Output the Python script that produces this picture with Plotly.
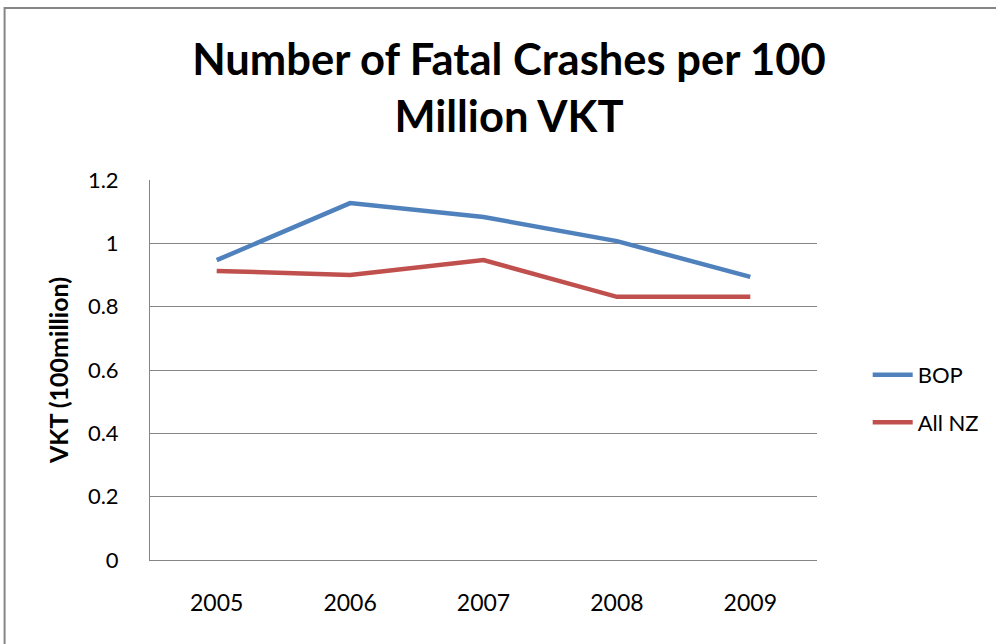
import plotly.graph_objects as go

years = ["2005", "2006", "2007", "2008", "2009"]
bop = [0.947, 1.127, 1.083, 1.007, 0.894]
all_nz = [0.913, 0.900, 0.947, 0.831, 0.831]
y_ticks = [0, 0.2, 0.4, 0.6, 0.8, 1, 1.2]
y_tick_text = ["0", "0.2", "0.4", "0.6", "0.8", "1", "1.2"]

FONT = "Lato"
GREY = "#868686"

fig = go.Figure()
fig.add_trace(go.Scatter(x=years, y=bop, name="BOP", mode="lines", legendgroup="bop",
                         line=dict(color="#4F81BD", width=4.5)))
fig.add_trace(go.Scatter(x=years, y=all_nz, name="All NZ", mode="lines", legendgroup="nz",
                         line=dict(color="#C0504D", width=4.5)))

fig.update_layout(
    width=996, height=644,
    margin=dict(l=150, r=176, t=180, b=84),
    paper_bgcolor="white", plot_bgcolor="white",
    font=dict(family=FONT, color="black"),
    title=dict(text="<b>Number of Fatal Crashes per 100<br>Million VKT</b>",
               x=0.511, xanchor="center", y=0.883, yanchor="middle",
               font=dict(size=43.5, family=FONT, color="black")),
    xaxis=dict(type="category", range=[-0.5, 4.5], showgrid=False,
               showline=True, linecolor=GREY, linewidth=1,
               ticks="", tickfont=dict(size=23), ticklabelstandoff=22),
    yaxis=dict(range=[0, 1.2], tickvals=y_ticks, ticktext=y_tick_text,
               showgrid=True, gridcolor=GREY, gridwidth=1,
               showline=True, linecolor=GREY, linewidth=1,
               zeroline=False, ticks="", tickfont=dict(size=22), ticklabelstandoff=26,
               title=dict(text="<b>VKT (100million)</b>", font=dict(size=25), standoff=12)),
    legend=dict(x=1.076, y=0.424, xanchor="left", yanchor="middle",
                font=dict(size=22), tracegroupgap=16, itemwidth=40,
                bgcolor="rgba(0,0,0,0)"),
    showlegend=True,
)

# outer chart frame (runs off the right and bottom of the picture)
fig.add_shape(type="rect", xref="paper", yref="paper",
              x0=-0.218, x1=1.5, y0=-0.5, y1=1.4526,
              line=dict(color=GREY, width=2), layer="below")

fig.write_html("out.html", config={"displayModeBar": False},
               post_script="document.body.style.margin='0';")
